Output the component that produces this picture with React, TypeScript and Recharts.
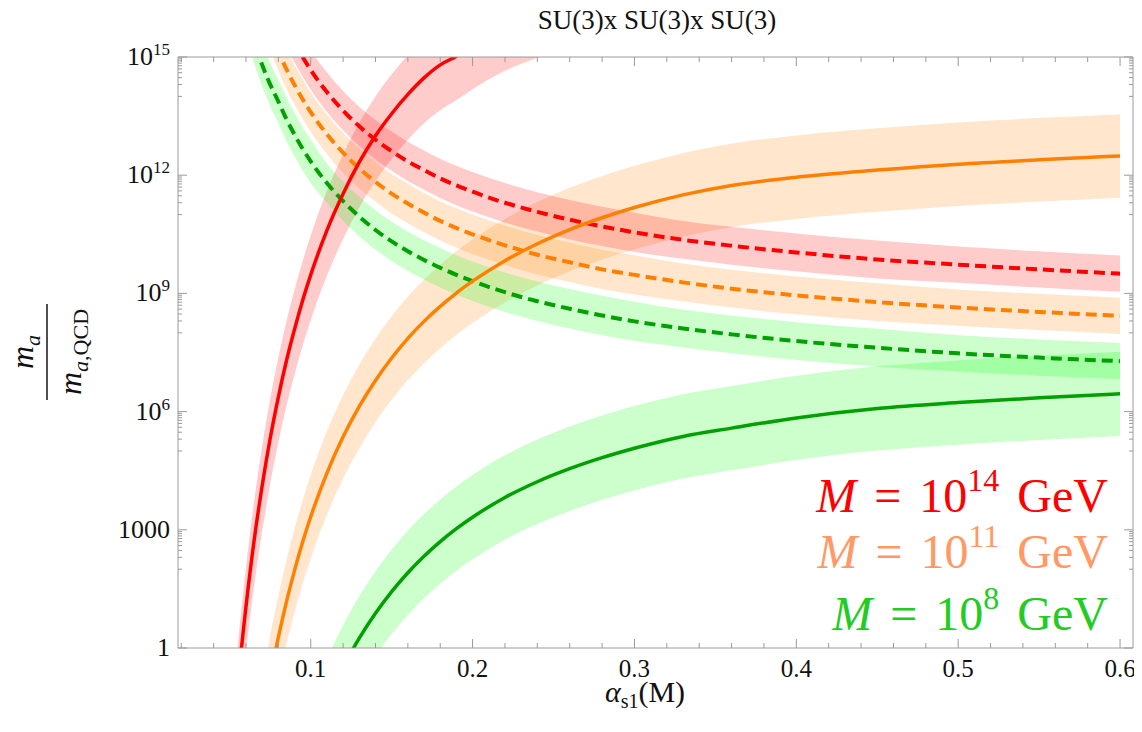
import React from 'react';
import { ComposedChart, Line, Area, XAxis, YAxis } from 'recharts';

// alpha_s1(M) sample points
const X = [0.05, 0.055, 0.06, 0.065, 0.07, 0.075, 0.08, 0.085, 0.09, 0.095, 0.1, 0.11, 0.12, 0.13, 0.14, 0.15, 0.16, 0.17, 0.18, 0.19, 0.2, 0.22, 0.24, 0.26, 0.28, 0.3, 0.33, 0.36, 0.4, 0.45, 0.5, 0.55, 0.6];

// all values are log10(m_a / m_a,QCD)
const _ = null;
// M = 10^14 GeV
const redSolid = [-3.21, -0.9, 1.05, 2.72, 4.12, 5.33, 6.37, 7.29, 8.09, 8.82, 9.47, 10.6, 11.53, 12.33, 13.0, 13.56, 14.05, 14.47, 14.8, 15.02, 15.3, 15.85, 16.3, 16.7, _, _, _, _, _, _, _, _, _];
const redSolidHi = [-2.21, 0.1, 2.05, 3.72, 5.12, 6.33, 7.37, 8.29, 9.09, 9.82, 10.47, 11.6, 12.53, 13.33, 14.0, 14.56, 15.05, 15.47, 15.8, 16.02, 16.3, 16.85, 17.3, 17.7, _, _, _, _, _, _, _, _, _];
const redSolidLo = [-4.36, -2.05, -0.1, 1.57, 2.97, 4.18, 5.22, 6.14, 6.94, 7.67, 8.32, 9.45, 10.38, 11.18, 11.85, 12.41, 12.9, 13.32, 13.65, 13.9, 14.18, 14.65, 14.98, 15.3, _, _, _, _, _, _, _, _, _];
const redDash = [_, _, _, _, _, _, _, 15.76, 15.36, 15.0, 14.67, 14.11, 13.64, 13.24, 12.9, 12.61, 12.35, 12.13, 11.92, 11.74, 11.58, 11.3, 11.07, 10.87, 10.7, 10.55, 10.36, 10.21, 10.04, 9.86, 9.73, 9.61, 9.5];
const redDashHi = [_, _, _, _, _, _, _, 16.26, 15.86, 15.5, 15.17, 14.61, 14.14, 13.74, 13.4, 13.11, 12.85, 12.63, 12.42, 12.24, 12.08, 11.8, 11.57, 11.37, 11.2, 11.05, 10.84, 10.69, 10.52, 10.34, 10.19, 10.07, 9.96];
const redDashLo = [_, _, _, _, _, _, _, 15.26, 14.86, 14.5, 14.17, 13.61, 13.14, 12.74, 12.4, 12.11, 11.85, 11.63, 11.42, 11.24, 11.08, 10.8, 10.57, 10.37, 10.2, 10.05, 9.88, 9.73, 9.56, 9.38, 9.27, 9.15, 9.04];
// M = 10^11 GeV
const orangeSolid = [_, _, _, _, -1.92, -0.75, 0.27, 1.17, 1.97, 2.69, 3.33, 4.44, 5.36, 6.13, 6.79, 7.36, 7.86, 8.29, 8.67, 9.01, 9.31, 9.83, 10.26, 10.62, 10.92, 11.18, 11.5, 11.74, 11.95, 12.13, 12.28, 12.39, 12.49];
const orangeSolidHi = [_, _, _, _, -0.86, 0.31, 1.33, 2.23, 3.03, 3.75, 4.39, 5.5, 6.42, 7.19, 7.85, 8.42, 8.92, 9.35, 9.73, 10.07, 10.37, 10.89, 11.32, 11.68, 11.98, 12.24, 12.56, 12.8, 13.01, 13.19, 13.34, 13.45, 13.55];
const orangeSolidLo = [_, _, _, _, -2.98, -1.81, -0.79, 0.11, 0.91, 1.63, 2.27, 3.38, 4.3, 5.07, 5.73, 6.3, 6.8, 7.23, 7.61, 7.95, 8.25, 8.77, 9.2, 9.56, 9.86, 10.12, 10.44, 10.68, 10.89, 11.07, 11.22, 11.33, 11.43];
const orangeDash = [_, _, _, _, _, 15.67, 15.15, 14.69, 14.29, 13.93, 13.6, 13.04, 12.57, 12.17, 11.83, 11.53, 11.28, 11.05, 10.84, 10.66, 10.5, 10.22, 9.98, 9.79, 9.61, 9.47, 9.28, 9.12, 8.95, 8.78, 8.64, 8.53, 8.43];
const orangeDashHi = [_, _, _, _, _, 16.17, 15.65, 15.19, 14.79, 14.43, 14.1, 13.54, 13.07, 12.67, 12.33, 12.03, 11.78, 11.55, 11.34, 11.16, 11.0, 10.72, 10.48, 10.29, 10.11, 9.97, 9.76, 9.6, 9.43, 9.26, 9.1, 8.99, 8.89];
const orangeDashLo = [_, _, _, _, _, 15.17, 14.65, 14.19, 13.79, 13.43, 13.1, 12.54, 12.07, 11.67, 11.33, 11.03, 10.78, 10.55, 10.34, 10.16, 10.0, 9.72, 9.48, 9.29, 9.11, 8.97, 8.8, 8.64, 8.47, 8.3, 8.18, 8.07, 7.97];
// M = 10^8 GeV
const greenSolid = [_, _, _, _, _, _, _, _, _, _, -2.4, -1.36, -0.49, 0.25, 0.88, 1.43, 1.91, 2.33, 2.7, 3.03, 3.32, 3.82, 4.22, 4.55, 4.83, 5.07, 5.37, 5.58, 5.84, 6.08, 6.23, 6.35, 6.45];
const greenSolidHi = [_, _, _, _, _, _, _, _, _, _, -1.33, -0.29, 0.58, 1.32, 1.95, 2.5, 2.98, 3.4, 3.77, 4.1, 4.39, 4.89, 5.29, 5.62, 5.9, 6.14, 6.44, 6.65, 6.91, 7.15, 7.3, 7.42, 7.52];
const greenSolidLo = [_, _, _, _, _, _, _, _, _, _, -3.47, -2.43, -1.56, -0.82, -0.19, 0.36, 0.84, 1.26, 1.63, 1.96, 2.25, 2.75, 3.15, 3.48, 3.76, 4.0, 4.3, 4.51, 4.77, 5.01, 5.16, 5.28, 5.38];
const greenDash = [_, _, 16.1, 15.4, 14.8, 14.3, 13.87, 13.42, 13.03, 12.67, 12.35, 11.8, 11.34, 10.95, 10.61, 10.32, 10.07, 9.85, 9.65, 9.47, 9.31, 9.03, 8.8, 8.61, 8.44, 8.29, 8.11, 7.96, 7.79, 7.62, 7.48, 7.37, 7.28];
const greenDashHi = [_, _, 16.65, 15.95, 15.35, 14.85, 14.42, 13.97, 13.58, 13.22, 12.9, 12.3, 11.84, 11.45, 11.11, 10.82, 10.57, 10.35, 10.15, 9.97, 9.81, 9.53, 9.3, 9.11, 8.94, 8.79, 8.59, 8.44, 8.27, 8.1, 7.94, 7.83, 7.74];
const greenDashLo = [_, _, 15.55, 14.85, 14.25, 13.75, 13.32, 12.87, 12.48, 12.12, 11.8, 11.3, 10.84, 10.45, 10.11, 9.82, 9.57, 9.35, 9.15, 8.97, 8.81, 8.53, 8.3, 8.11, 7.94, 7.79, 7.63, 7.48, 7.31, 7.14, 7.02, 6.91, 6.82];

// axis ticks
const xMajorTicks = [0.1, 0.2, 0.3, 0.4, 0.5, 0.6];
const xMajorLabels = ['0.1', '0.2', '0.3', '0.4', '0.5', '0.6'];
const xMinorSteps = [1, 2, 3, 4, 5, 6, 7, 8, 9, 10, 11, 12, 13, 14, 15, 16, 17, 18, 19, 20, 21, 22, 23, 24, 25, 26, 27, 28, 29, 30];
const yMajorTicks = [1, 1e3, 1e6, 1e9, 1e12, 1e15];
const yMajorBase = ['1', '1000', '10', '10', '10', '10'];
const yMajorExp = ['', '', '6', '9', '12', '15'];
const yMinorDecades = [2, 5, 8, 11, 14];
const yMinorMult = [1, 2, 3, 4, 5, 6, 7, 8, 9];

const legendLines = [
  { exp: '14', color: '#ff0000' },
  { exp: '11', color: '#ff9966' },
  { exp: '8', color: '#22cc22' },
];

const pw = (v: number | null) => (v == null ? null : Math.pow(10, v));
const rng = (lo: (number | null)[], hi: (number | null)[], i: number) =>
  lo[i] == null || hi[i] == null ? null : [pw(lo[i]), pw(hi[i])];

const data = X.map((x, i) => ({
  x,
  redSolid: pw(redSolid[i]),
  redSolidBand: rng(redSolidLo, redSolidHi, i),
  redDash: pw(redDash[i]),
  redDashBand: rng(redDashLo, redDashHi, i),
  orangeSolid: pw(orangeSolid[i]),
  orangeSolidBand: rng(orangeSolidLo, orangeSolidHi, i),
  orangeDash: pw(orangeDash[i]),
  orangeDashBand: rng(orangeDashLo, orangeDashHi, i),
  greenSolid: pw(greenSolid[i]),
  greenSolidBand: rng(greenSolidLo, greenSolidHi, i),
  greenDash: pw(greenDash[i]),
  greenDashBand: rng(greenDashLo, greenDashHi, i),
}));

const xTicks = xMinorSteps.map((s) => Math.round(s * 2) / 100);
const yTicks: number[] = [...yMajorTicks];
yMinorDecades.forEach((d) => yMinorMult.forEach((m) => yTicks.push(m * Math.pow(10, d))));
yTicks.sort((a, b) => a - b);

const SERIF = '"Liberation Serif", "Times New Roman", Times, serif';
const FRAME = '#9a9a9a';
const W = 1134;
const H = 724;

const xMajorIndex = (v: number) => xMajorTicks.findIndex((t) => Math.abs(t - v) < 1e-9);
const yMajorIndex = (v: number) => yMajorTicks.findIndex((t) => Math.abs(t / v - 1) < 1e-9);

const BottomTick = (props: any) => {
  const { x, y, payload } = props;
  const k = xMajorIndex(payload.value);
  const len = k >= 0 ? 9 : 5;
  return (
    <g>
      <line x1={x} x2={x} y1={y} y2={y - len} stroke={FRAME} strokeWidth={1} />
      {k >= 0 && (
        <text x={x} y={y + 29} textAnchor="middle" fontSize={25} fontFamily={SERIF} fill="#111">
          {xMajorLabels[k]}
        </text>
      )}
    </g>
  );
};

const TopTick = (props: any) => {
  const { x, y, payload } = props;
  const k = xMajorIndex(payload.value);
  const len = k >= 0 ? 9 : 5;
  return <line x1={x} x2={x} y1={y} y2={y + len} stroke={FRAME} strokeWidth={1} />;
};

const LeftTick = (props: any) => {
  const { x, y, payload } = props;
  const k = yMajorIndex(payload.value);
  const len = k >= 0 ? 9 : 4;
  return (
    <g>
      <line x1={x} x2={x + len} y1={y} y2={y} stroke={FRAME} strokeWidth={1} />
      {k >= 0 && (
        <text x={x - 8} y={y + 8} textAnchor="end" fontSize={26} fontFamily={SERIF} fill="#111">
          {yMajorBase[k]}
          {yMajorExp[k] !== '' && (
            <tspan dy={-10} fontSize={17}>
              {yMajorExp[k]}
            </tspan>
          )}
        </text>
      )}
    </g>
  );
};

const RightTick = (props: any) => {
  const { x, y, payload } = props;
  const k = yMajorIndex(payload.value);
  const len = k >= 0 ? 9 : 4;
  return <line x1={x} x2={x - len} y1={y} y2={y} stroke={FRAME} strokeWidth={1} />;
};

const RED = '#ff0000';
const ORANGE = '#ff8000';
const GREEN = '#00a000';

export default function App() {
  const band = (key: string, color: string) => (
    <Area
      key={key}
      dataKey={key}
      type="monotone"
      stroke="none"
      fill={color}
      fillOpacity={0.2}
      isAnimationActive={false}
      dot={false}
      activeDot={false}
      xAxisId="b"
      yAxisId="l"
    />
  );
  const line = (key: string, color: string, dashed: boolean) => (
    <Line
      key={key}
      dataKey={key}
      type="monotone"
      stroke={color}
      strokeWidth={dashed ? 4 : 3.5}
      strokeDasharray={dashed ? '11 6' : undefined}
      dot={false}
      activeDot={false}
      isAnimationActive={false}
      xAxisId="b"
      yAxisId="l"
    />
  );
  return (
    <div style={{ position: 'relative', width: W, height: H }}>
      <ComposedChart
        width={W}
        height={H}
        data={data}
        margin={{ top: 48, right: 8, bottom: 83, left: 169 }}
      >
        <XAxis
          xAxisId="b"
          dataKey="x"
          type="number"
          domain={[0.018, 0.608]}
          allowDataOverflow
          ticks={xTicks}
          interval={0}
          tick={<BottomTick />}
          tickLine={false}
          tickSize={0}
          tickMargin={0}
          height={1}
          axisLine={{ stroke: FRAME }}
        />
        <XAxis
          xAxisId="t"
          orientation="top"
          dataKey="x"
          type="number"
          domain={[0.018, 0.608]}
          allowDataOverflow
          ticks={xTicks}
          interval={0}
          tick={<TopTick />}
          tickLine={false}
          tickSize={0}
          tickMargin={0}
          height={1}
          axisLine={{ stroke: FRAME }}
        />
        <YAxis
          yAxisId="l"
          type="number"
          scale="log"
          domain={[1, 1e15]}
          allowDataOverflow
          ticks={yTicks}
          interval={0}
          tick={<LeftTick />}
          tickLine={false}
          tickSize={0}
          tickMargin={0}
          width={1}
          axisLine={{ stroke: FRAME }}
        />
        <YAxis
          yAxisId="r"
          orientation="right"
          type="number"
          scale="log"
          domain={[1, 1e15]}
          allowDataOverflow
          ticks={yTicks}
          interval={0}
          tick={<RightTick />}
          tickLine={false}
          tickSize={0}
          tickMargin={0}
          width={1}
          axisLine={{ stroke: FRAME }}
        />
        {band('redSolidBand', RED)}
        {band('orangeSolidBand', ORANGE)}
        {band('greenSolidBand', '#00ff00')}
        {band('redDashBand', RED)}
        {band('orangeDashBand', ORANGE)}
        {band('greenDashBand', '#00ff00')}
        {line('redDash', RED, true)}
        {line('orangeDash', ORANGE, true)}
        {line('greenDash', GREEN, true)}
        {line('redSolid', RED, false)}
        {line('orangeSolid', ORANGE, false)}
        {line('greenSolid', GREEN, false)}
      </ComposedChart>
      <svg
        width={1142}
        height={732}
        style={{ position: 'absolute', left: -8, top: -8, pointerEvents: 'none' }}
        fontFamily={SERIF}
      >
        <text x={657} y={29} textAnchor="middle" fontSize={27} fill="#111">
          SU(3)x SU(3)x SU(3)
        </text>
        <text x={645} y={702} textAnchor="middle" fontSize={30} fill="#111">
          <tspan fontStyle="italic">α</tspan>
          <tspan fontSize={20} dy={6}>s1</tspan>
          <tspan dy={-6}>(M)</tspan>
        </text>
        <g transform="translate(47,352) rotate(-90)">
          <text x={0} y={-14} textAnchor="middle" fontSize={32} fill="#111">
            <tspan fontStyle="italic">m</tspan>
            <tspan fontStyle="italic" fontSize={22} dy={7}>a</tspan>
          </text>
          <line x1={-48} x2={48} y1={0} y2={0} stroke="#222" strokeWidth={1.6} />
          <text x={0} y={34} textAnchor="middle" fontSize={32} fill="#111">
            <tspan fontStyle="italic">m</tspan>
            <tspan fontSize={22} dy={7}>
              <tspan fontStyle="italic">a</tspan>,QCD
            </tspan>
          </text>
        </g>
        {legendLines.map((l, i) => (
          <text
            key={l.exp}
            x={1108}
            y={[512, 568, 630][i]}
            textAnchor="end"
            fontSize={48}
            fill={l.color}
          >
            <tspan fontStyle="italic">M</tspan>
            <tspan dx={18}>=</tspan>
            <tspan dx={18}>10</tspan>
            <tspan dy={-21} fontSize={32}>{l.exp}</tspan>
            <tspan dy={21} dx={18}>GeV</tspan>
          </text>
        ))}
      </svg>
    </div>
  );
}
